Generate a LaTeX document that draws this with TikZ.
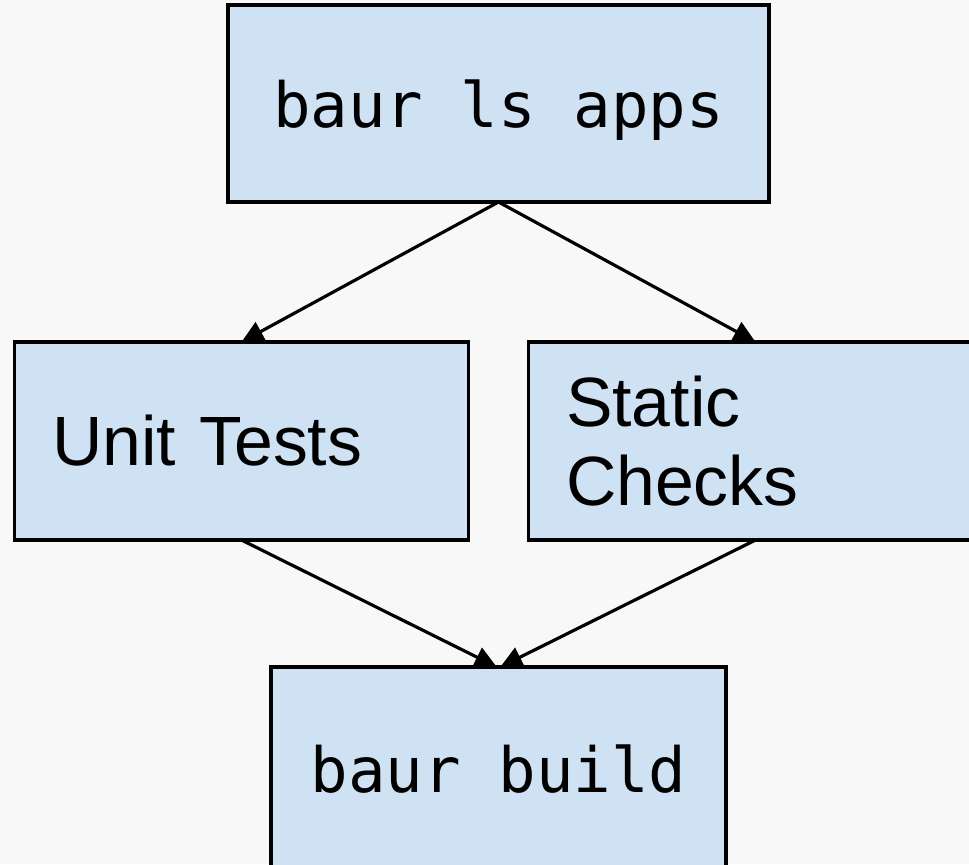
\documentclass[tikz,border=0pt]{standalone}
\usepackage{fontspec}
\setmainfont{Liberation Sans}
\setmonofont{DejaVu Sans Mono}
\usepackage{tikz}
\usetikzlibrary{arrows.meta, positioning}

\definecolor{pagebg}{HTML}{F8F8F8}
\definecolor{boxfill}{HTML}{CFE2F3}

\begin{document}
\begin{tikzpicture}[
  cmdbox/.style={rectangle, draw, line width=2pt, fill=boxfill, outer sep=0pt,
    font=\ttfamily\fontsize{35.5}{42}\selectfont, align=center},
  taskbox/.style={rectangle, draw, line width=2pt, fill=boxfill, outer sep=0pt,
    font=\fontsize{39.7}{45}\selectfont, text width=7.58cm, inner xsep=0.74cm,
    align=left, minimum width=9.08cm, minimum height=3.96cm},
  arrow/.style={-{Triangle[length=0.44cm, width=0.42cm]}, line width=1.8pt}
]
  \useasboundingbox (0,0) rectangle (19.38,-17.28);
  \fill[pagebg] (0,0) rectangle (19.38,-17.28);

  \node[cmdbox, minimum width=10.82cm, minimum height=3.94cm, text height=1.2cm] (ls) at (9.97,-2.07) {baur ls apps};
  \node[taskbox, below=2.8cm of ls, xshift=-5.14cm] (unit) {Unit Tests};
  \node[taskbox, right=1.2cm of unit] (static) {Static\\Checks};
  \node[cmdbox, minimum width=9.1cm, minimum height=4.1cm, anchor=north] (build) at ([yshift=-9.3cm]ls.south) {baur build};

  \draw[arrow] (ls.south) -- (unit.north);
  \draw[arrow] (ls.south) -- (static.north);
  \draw[arrow] (unit.south) -- ([xshift=-1pt]build.north);
  \draw[arrow] (static.south) -- ([xshift=1pt]build.north);
\end{tikzpicture}
\end{document}
